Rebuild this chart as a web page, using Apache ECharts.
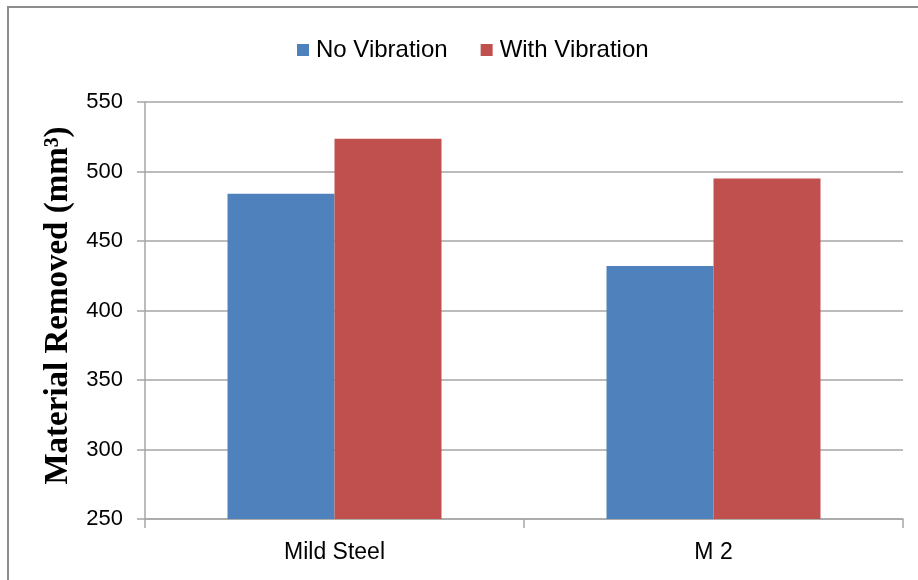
<!DOCTYPE html>
<html><head><meta charset="utf-8">
<script src="https://cdn.jsdelivr.net/npm/echarts@6/dist/echarts.min.js"></script>
<style>html,body{margin:0;padding:0;background:#fff}#c{width:918px;height:580px}</style>
</head><body><div id="c"></div>
<script>
const categories = ['Mild Steel', 'M 2'];
const noVibration = [484, 432];
const withVibration = [523.5, 495];
const yTicks = { min: 250, max: 550, interval: 50 };

const chart = echarts.init(document.getElementById('c'), null, {renderer: 'canvas'});
const gridColor = '#A6A6A6';
const sans = 'Liberation Sans';
chart.setOption({
  animation: false,
  backgroundColor: '#fff',
  graphic: [{
    type: 'rect', shape: {x: 8, y: 7, width: 940, height: 600},
    style: {fill: 'none', stroke: '#8C8C8C', lineWidth: 2}, silent: true
  }],
  legend: {
    top: 33, left: 292, itemWidth: 12, itemHeight: 12, itemGap: 33,
    icon: 'rect',
    textStyle: {fontFamily: sans, fontSize: 24, color: '#000', padding: [0,0,0,2]},
    data: ['No Vibration', 'With Vibration']
  },
  grid: {left: 145, right: 15, top: 102, bottom: 61, containLabel: false},
  xAxis: {
    type: 'category', data: categories,
    axisLine: {lineStyle: {color: gridColor, width: 1.5}},
    axisTick: {show: true, length: 9, lineStyle: {color: gridColor, width: 1.5}},
    axisLabel: {margin: 22, fontFamily: sans, fontSize: 23, color: '#000'}
  },
  yAxis: {
    type: 'value', min: yTicks.min, max: yTicks.max, interval: yTicks.interval,
    name: 'Material Removed (mm³)', nameLocation: 'middle', nameGap: 66,
    nameTextStyle: {fontFamily: 'Liberation Serif', fontWeight: 'bold', fontSize: 33, color: '#000', padding: [0,0,0,10]},
    axisLine: {show: true, lineStyle: {color: gridColor, width: 1.5}},
    axisTick: {show: true, length: 8, inside: false, lineStyle: {color: gridColor, width: 1.5}},
    splitLine: {lineStyle: {color: gridColor, width: 1.5}},
    axisLabel: {margin: 22, fontFamily: sans, fontSize: 22, color: '#000'}
  },
  series: [
    {name: 'No Vibration', type: 'bar', data: noVibration, barWidth: 107, barGap: '0%',
     itemStyle: {color: '#4F81BD'}},
    {name: 'With Vibration', type: 'bar', data: withVibration, barWidth: 107, barGap: '0%',
     itemStyle: {color: '#C0504D'}}
  ]
});
</script></body></html>
